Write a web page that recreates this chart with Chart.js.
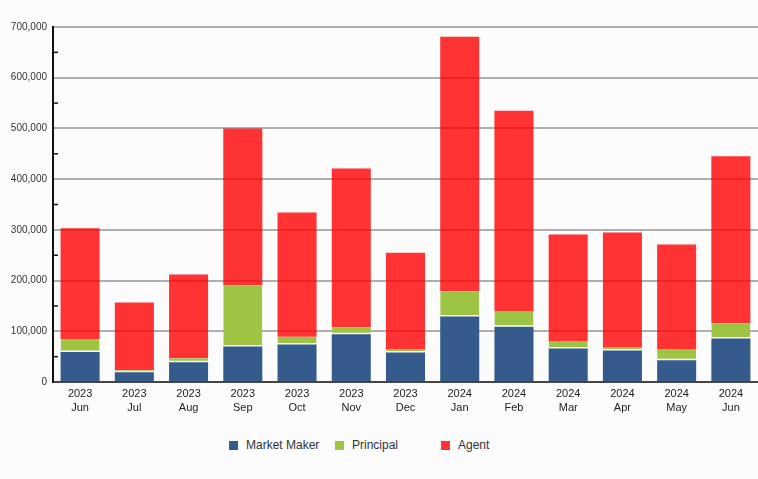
<!DOCTYPE html>
<html>
<head>
<meta charset="utf-8">
<script src="https://cdn.jsdelivr.net/npm/chart.js@4.4.1/dist/chart.umd.min.js"></script>
<style>
  html, body { margin: 0; padding: 0; background: #fcfcfc; }
  #wrap { position: relative; width: 758px; height: 479px; }
  #box { position: absolute; left: 0; top: 0; width: 758px; height: 420px; }
  #legend { position: absolute; top: 436px; left: 0; width: 758px; height: 20px;
            font-family: "Liberation Sans", Arial, sans-serif; font-size: 12px; color: #333; }
  .item { position: absolute; top: 0; display: flex; align-items: center; height: 18px; }
  .item span.sw { width: 9px; height: 9px; margin-right: 8px; display: inline-block; }
</style>
</head>
<body>
<div id="wrap">
  <div id="box"><canvas id="chart"></canvas></div>
  <div id="legend"></div>
</div>
<script>
// data
const years = ["2023", "2023", "2023", "2023", "2023", "2023", "2023", "2024", "2024", "2024", "2024", "2024", "2024"];
const months = ["Jun", "Jul", "Aug", "Sep", "Oct", "Nov", "Dec", "Jan", "Feb", "Mar", "Apr", "May", "Jun"];
const marketMaker = [59000, 19000, 39000, 70000, 74000, 94000, 58000, 129000, 109000, 66000, 62000, 43000, 86000];
const principal = [26000, 4000, 8000, 121000, 15000, 14000, 7000, 50000, 31000, 15000, 7000, 22000, 30000];
const agent = [218000, 134000, 165000, 309000, 245000, 313000, 190000, 502000, 395000, 210000, 226000, 206000, 329000];
const seriesNames = ["Market Maker", "Principal", "Agent"];
const yTicks = [0, 100000, 200000, 300000, 400000, 500000, 600000, 700000];

const colors = ["#345b8c", "#9dc443", "rgba(255, 0, 0, 0.8)"];
const swatches = ["#345b8c", "#9dc443", "#ff3333"];
const font = "'Liberation Sans', Arial, sans-serif";

// small inward ticks halfway between the gridlines
const minorTicks = {
  id: "minorTicks",
  afterDraw(chart) {
    const { ctx, chartArea, scales } = chart;
    ctx.save();
    ctx.strokeStyle = "#111";
    ctx.lineWidth = 1.5;
    for (let i = 0; i < yTicks.length - 1; i++) {
      const y = scales.y.getPixelForValue((yTicks[i] + yTicks[i + 1]) / 2);
      ctx.beginPath();
      ctx.moveTo(chartArea.left, y);
      ctx.lineTo(chartArea.left + 5, y);
      ctx.stroke();
    }
    ctx.restore();
  },
};

const makeSet = (label, data, i) => ({
  label: label,
  data: data,
  backgroundColor: colors[i],
  borderColor: "#ffffff",
  // white gap only between market maker and principal
  borderWidth: i === 1 ? { top: 0, bottom: 1.5, left: 0, right: 0 } : 0,
  borderSkipped: false,
  barPercentage: 0.72,
  categoryPercentage: 1,
});

new Chart(document.getElementById("chart"), {
  type: "bar",
  data: {
    labels: years.map((y, i) => [y, months[i]]),
    datasets: [
      makeSet(seriesNames[0], marketMaker, 0),
      makeSet(seriesNames[1], principal, 1),
      makeSet(seriesNames[2], agent, 2),
    ],
  },
  options: {
    responsive: true,
    maintainAspectRatio: false,
    animation: false,
    layout: { padding: { top: 27, right: 0, left: 0, bottom: 0 } },
    plugins: { legend: { display: false }, tooltip: { enabled: false } },
    scales: {
      x: {
        stacked: true,
        grid: { display: false, drawTicks: false },
        border: { display: true, color: "#444", width: 2 },
        ticks: { color: "#222", padding: 5, maxRotation: 0, font: { family: font, size: 11, lineHeight: 1.25 } },
        afterFit: (scale) => { scale.height = 38; },
      },
      y: {
        stacked: true,
        min: 0,
        max: 700000,
        afterBuildTicks: (scale) => { scale.ticks = yTicks.map((v) => ({ value: v })); },
        grid: { color: (c) => (c.tick && c.tick.value === 0 ? "rgba(0,0,0,0)" : "rgba(150,150,150,0.75)"), lineWidth: 2, drawTicks: false },
        border: { display: true, color: "#111", width: 2 },
        ticks: {
          color: "#333",
          padding: 6,
          font: { family: font, size: 10 },
          callback: (v) => v.toLocaleString("en-US"),
        },
        afterFit: (scale) => { scale.width = 53; },
      },
    },
  },
  plugins: [minorTicks],
});

// legend with evenly spaced items
const legend = document.getElementById("legend");
seriesNames.forEach((name, i) => {
  const item = document.createElement("div");
  item.className = "item";
  item.style.left = (229 + i * 106) + "px";
  item.innerHTML = '<span class="sw" style="background:' + swatches[i] + '"></span>' + name;
  legend.appendChild(item);
});
</script>
</body>
</html>
